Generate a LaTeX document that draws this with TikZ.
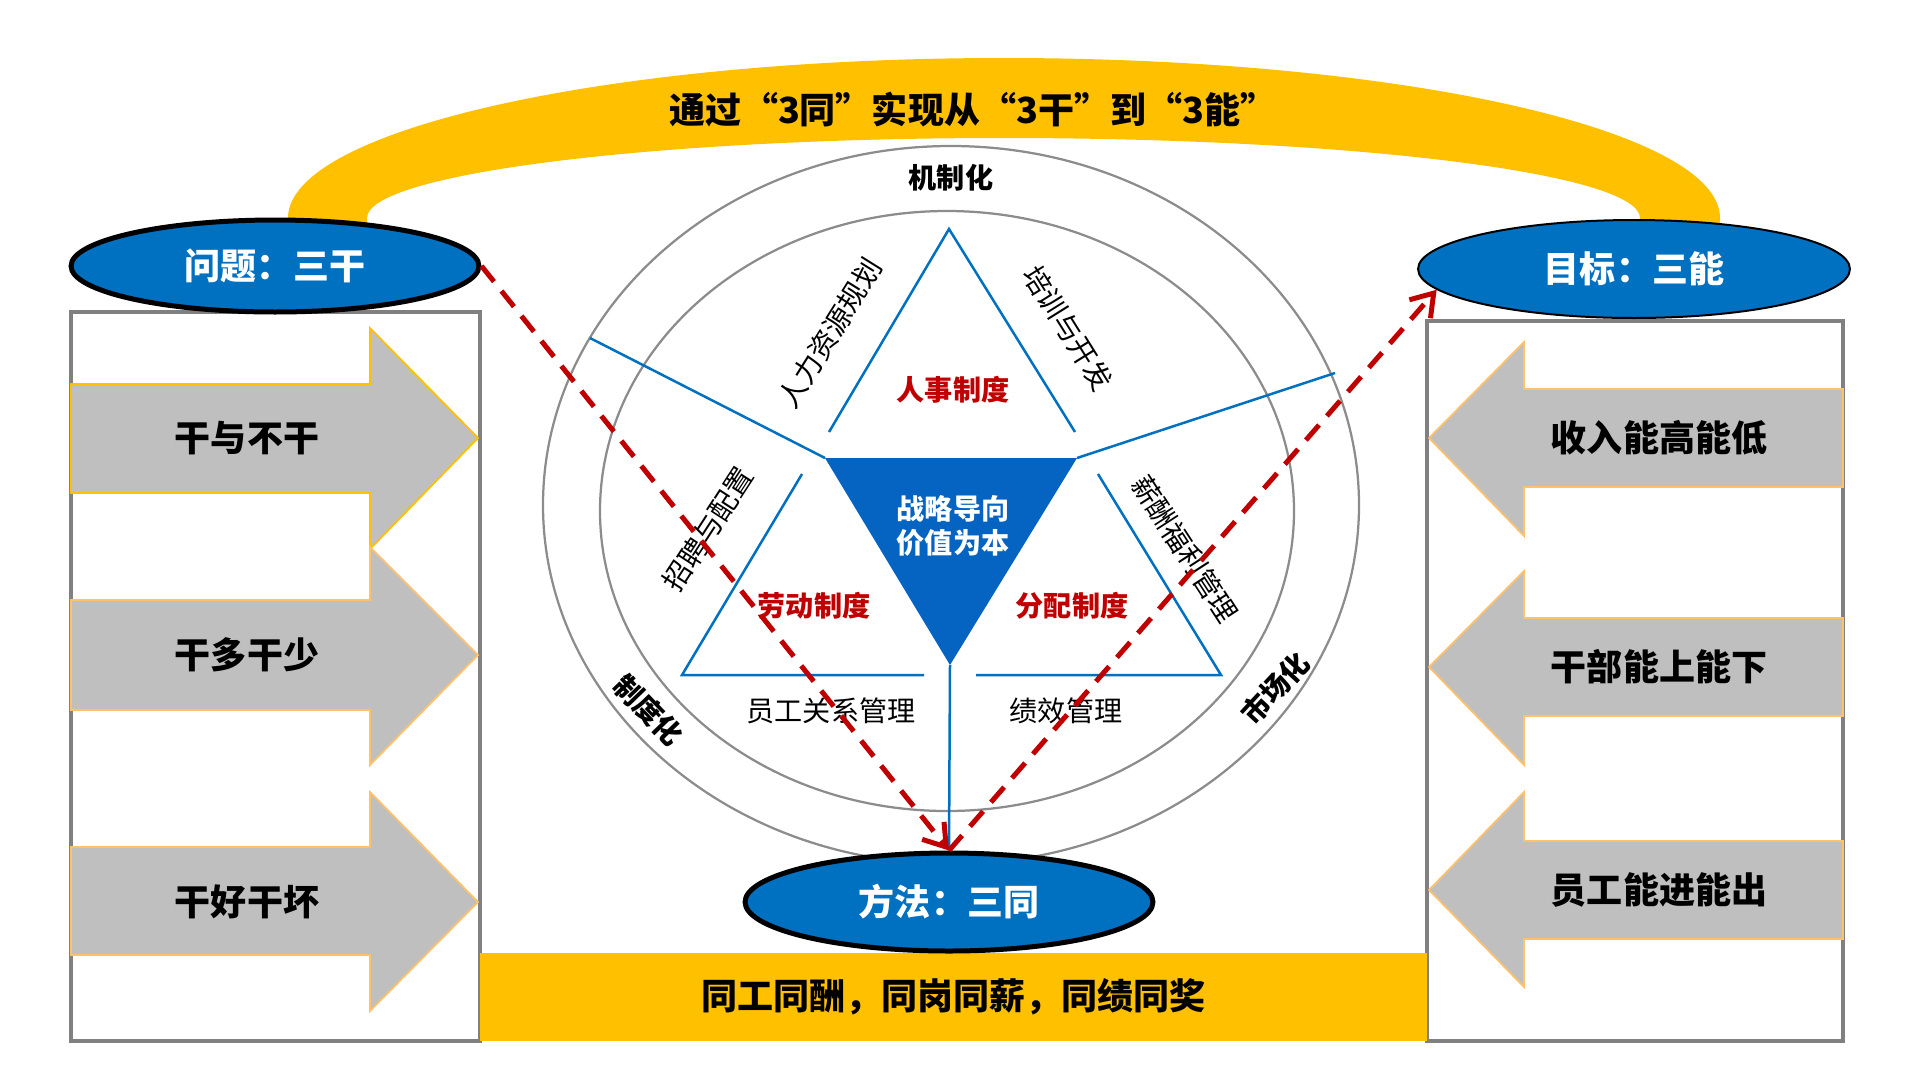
\documentclass[tikz,border=0pt]{standalone}
\usepackage{fontspec}
\setmainfont{Noto Sans CJK SC}
\usetikzlibrary{arrows.meta,positioning,shapes.geometric}
\definecolor{ovalblue}{HTML}{0070C0}
\definecolor{coreblue}{HTML}{0563C1}
\definecolor{amber}{HTML}{FFC000}
\definecolor{peach}{HTML}{FFC26B}
\definecolor{ashgray}{HTML}{BFBFBF}
\definecolor{framegray}{HTML}{808080}
\definecolor{ringgray}{HTML}{8C8C8C}
\definecolor{brick}{HTML}{C00000}
\newcommand{\bigtxt}{\fontsize{20.5}{24}\selectfont}
\newcommand{\midtxt}{\fontsize{16}{19}\selectfont}
\tikzset{
  ovalbox/.style={
    ellipse, draw=black, fill=ovalblue, line width=#1,
    minimum width=8.16cm, minimum height=1.84cm,
    text=white, font=\bigtxt\bfseries, inner sep=0pt
  },
  ovalbox/.default=0.1cm,
  framebox/.style={draw=framegray, line width=0.08cm},
  ringline/.style={draw=ringgray, line width=0.045cm},
  triline/.style={draw=ovalblue, line width=0.05cm},
  fatarrow/.style={fill=ashgray, draw=#1, line width=0.035cm},
  fatarrow/.default=peach,
  arrowtext/.style={font=\bigtxt\bfseries, inner sep=0pt},
  ringtext/.style={font=\midtxt\bfseries, inner sep=0pt},
  sidetext/.style={font=\midtxt, inner sep=0pt},
  redtext/.style={font=\midtxt\bfseries, text=brick, inner sep=0pt},
  yellowbar/.style={rectangle, fill=amber, minimum width=18.94cm,
    minimum height=1.76cm, font=\bigtxt\bfseries, inner sep=0pt},
  dashlink/.style={draw=brick, line width=0.1cm,
    dash pattern=on 0.4cm off 0.24cm,
    -{Straight Barb[length=0.42cm, width=0.56cm]}},
}
\begin{document}
\begin{tikzpicture}[x=0.02cm, y=-0.02cm]
\useasboundingbox (0,0) rectangle (1920,1080);
\fill[amber] (288,240) -- (288,218)
  arc[start angle=180, end angle=360, x radius=716, y radius=160]
  -- (1720,240) -- (1640,240) -- (1640,218)
  arc[start angle=0, end angle=-180, x radius=636.5, y radius=80]
  -- (367,240) -- cycle;
\node[arrowtext] (motto) at (973,110) {通过“3同”实现从“3干”到“3能”};
\draw[framebox] (71,312) rectangle (480,1041);
\draw[framebox] (1427,321) rectangle (1843,1041);
\draw[fatarrow=amber] (71,384) -- (370,384) -- (370,328) -- (478,438)
  -- (370,549) -- (370,493) -- (71,493) -- cycle;
\node[arrowtext] (dowork) at (247,438) {干与不干};
\draw[fatarrow] (71,600) -- (370,600) -- (370,547) -- (478,655)
  -- (370,765) -- (370,710) -- (71,710) -- cycle;
\node[arrowtext] (domore) at (247,655) {干多干少};
\draw[fatarrow] (71,847) -- (370,847) -- (370,792) -- (478,902)
  -- (370,1011) -- (370,955) -- (71,955) -- cycle;
\node[arrowtext] (dowell) at (247,902) {干好干坏};
\draw[fatarrow] (1843,389) -- (1524,389) -- (1524,342) -- (1429,438)
  -- (1524,536) -- (1524,487) -- (1843,487) -- cycle;
\node[arrowtext] (pay) at (1659,438) {收入能高能低};
\draw[fatarrow] (1843,618) -- (1524,618) -- (1524,571) -- (1429,667)
  -- (1524,765) -- (1524,716) -- (1843,716) -- cycle;
\node[arrowtext] (cadre) at (1659,667) {干部能上能下};
\draw[fatarrow] (1843,841) -- (1524,841) -- (1524,792) -- (1429,890)
  -- (1524,987) -- (1524,939) -- (1843,939) -- cycle;
\node[arrowtext] (staff) at (1659,890) {员工能进能出};
\node[yellowbar] (slogan) at (953.5,997) {同工同酬，同岗同薪，同绩同奖};
\draw[ringline] (951,505) ellipse[x radius=408, y radius=359];
\draw[ringline] (947,511) ellipse[x radius=347, y radius=300];
\draw[triline] (829,432) -- (949,229) -- (1075,432);
\draw[triline] (802,474) -- (682,675) -- (924,675);
\draw[triline] (1098,474) -- (1221,675) -- (976,675);
\fill[coreblue] (825,458) -- (1077,458) -- (950,665) -- cycle;
\draw[triline] (825,458) -- (590,338);
\draw[triline] (1077,458) -- (1335,373);
\node[ringtext] (mech) at (951,178) {机制化};
\node[ringtext, rotate=-46] (inst) at (649,710) {制度化};
\node[ringtext, rotate=47] (market) at (1275,688) {市场化};
\node[sidetext, rotate=58] (plan) at (830,333) {人力资源规划};
\node[sidetext, rotate=-58] (train) at (1068,328) {培训与开发};
\node[sidetext, rotate=57] (hire) at (708,529) {招聘与配置};
\node[sidetext, rotate=-57] (salary) at (1185,549) {薪酬福利管理};
\node[sidetext] (relation) at (831,711) {员工关系管理};
\node[sidetext] (perf) at (1066,711) {绩效管理};
\node[redtext] (personnel) at (953,390) {人事制度};
\node[redtext] (labour) at (814,606) {劳动制度};
\node[redtext] (share) at (1072,606) {分配制度};
\node[ringtext, text=white, align=center] (core) at (953,526) {战略导向\\价值为本};
\node[ovalbox] (problem) at (275,266) {问题：三干};
\node[ovalbox=0.04cm, minimum width=8.64cm, minimum height=1.96cm] (goal) at (1634,269) {目标：三能};
\node[ovalbox, minimum height=1.96cm] (method) at (949,902) {方法：三同};
\draw[triline] (950,665) -- (method.north);
\draw[dashlink] (problem.east) -- (method.north);
\draw[dashlink] (method.north) -- (goal.186);
\end{tikzpicture}
\end{document}
